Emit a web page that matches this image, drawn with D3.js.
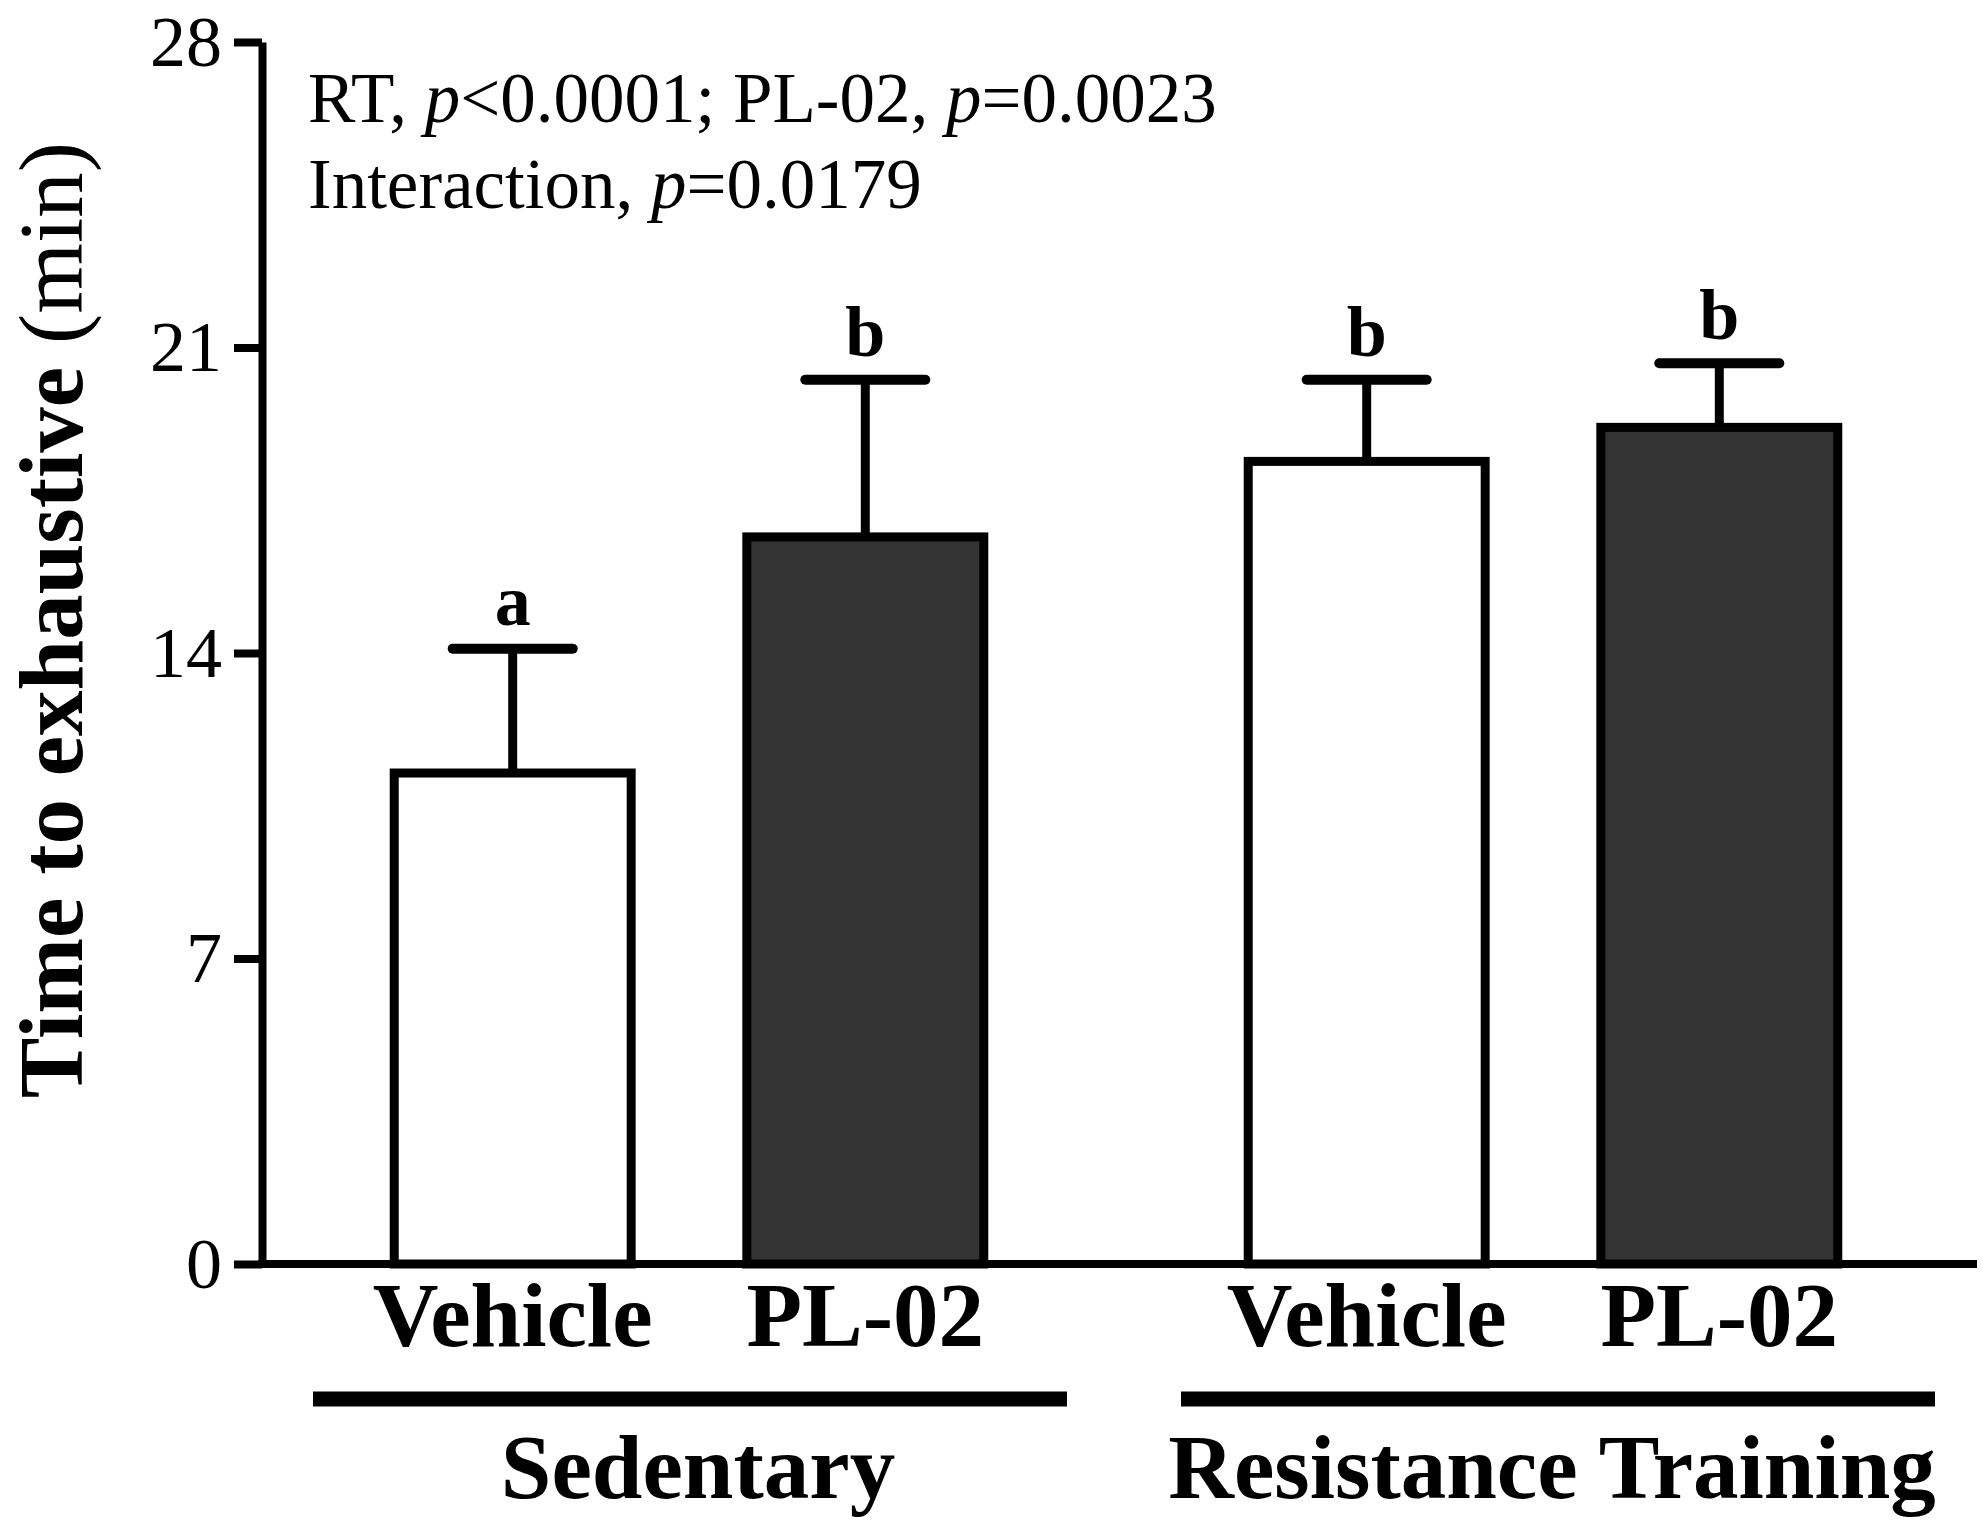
<!DOCTYPE html>
<html>
<head>
<meta charset="utf-8">
<script src="https://cdn.jsdelivr.net/npm/d3@7"></script>
<style>
  html, body { margin: 0; padding: 0; background: #fff; }
  svg { display: block; }
  text { font-family: "Liberation Serif", "Times New Roman", serif; fill: #000; }
</style>
</head>
<body>
<div class="chart"></div>
<script>
// data
const groups = ["Sedentary", "Resistance Training"]
const treatments = ["Vehicle", "PL-02"]
const means = [11.25, 16.66, 18.39, 19.17]   // Sed-Vehicle, Sed-PL-02, RT-Vehicle, RT-PL-02
const errors = [2.85, 3.6, 1.87, 1.47]
const letters = ["a", "b", "b", "b"]
const yTicks = [0, 7, 14, 21, 28]
const statLines = [
    [["RT, ", false], ["p", true], ["<0.0001; PL-02, ", false], ["p", true], ["=0.0023", false]],
    [["Interaction, ", false], ["p", true], ["=0.0179", false]]
]

const width = 1983
const height = 1526
const margin = { top: 42, left: 262, right: 13, bottom: 262 }
const fills = { "Vehicle": "#ffffff", "PL-02": "#333333" }
const groupLineShift = { "Sedentary": 1, "Resistance Training": 15 }  // group underline sits a bit right of the bars
const groupLineHalf = 377

const rows = []
groups.forEach((g, i) => treatments.forEach((t, j) => {
    const k = i * treatments.length + j
    rows.push({ group: g, treatment: t, mean: means[k], err: errors[k], letter: letters[k] })
}))

let svg = d3.select(".chart")
    .append("svg")
    .attr("width", width)
    .attr("height", height)

// scales
const y = d3.scaleLinear()
    .domain([0, 28])
    .range([height - margin.bottom, margin.top])

const xGroup = d3.scaleBand()
    .domain(groups)
    .range([margin.left, width - margin.right])

const xTreat = d3.scaleBand()
    .domain(treatments)
    .range([0, xGroup.bandwidth()])
    .paddingInner(0.328)
    .paddingOuter(0.375)

const cx = d => xGroup(d.group) + xTreat(d.treatment) + xTreat.bandwidth() / 2
const gx = g => xGroup(g) + xGroup.bandwidth() / 2

// bars
svg.selectAll("rect.bar")
    .data(rows)
    .enter()
    .append("rect")
    .attr("class", "bar")
    .attr("x", d => xGroup(d.group) + xTreat(d.treatment))
    .attr("y", d => y(d.mean))
    .attr("width", xTreat.bandwidth())
    .attr("height", d => y(0) - y(d.mean))
    .attr("fill", d => fills[d.treatment])
    .attr("stroke", "#000")
    .attr("stroke-width", 9)

// error bars
const capHalf = 60
svg.selectAll("line.err")
    .data(rows)
    .enter()
    .append("line")
    .attr("x1", cx).attr("x2", cx)
    .attr("y1", d => y(d.mean))
    .attr("y2", d => y(d.mean + d.err))
    .attr("stroke", "#000")
    .attr("stroke-width", 9)

svg.selectAll("line.cap")
    .data(rows)
    .enter()
    .append("line")
    .attr("x1", d => cx(d) - capHalf)
    .attr("x2", d => cx(d) + capHalf)
    .attr("y1", d => y(d.mean + d.err))
    .attr("y2", d => y(d.mean + d.err))
    .attr("stroke", "#000")
    .attr("stroke-width", 10)
    .attr("stroke-linecap", "round")

// significance letters
svg.selectAll("text.letter")
    .data(rows)
    .enter()
    .append("text")
    .attr("x", cx)
    .attr("y", d => y(d.mean + d.err) - 24)
    .attr("text-anchor", "middle")
    .attr("font-size", 72)
    .attr("font-weight", "bold")
    .text(d => d.letter)

// y axis
const yAxis = svg.append("g")
    .attr("transform", `translate(${margin.left},0)`)
    .call(d3.axisLeft(y).tickValues(yTicks).tickSize(28).tickSizeOuter(0).tickPadding(12))

yAxis.select(".domain").attr("stroke", "#000").attr("stroke-width", 8)
yAxis.selectAll(".tick line").attr("stroke", "#000").attr("stroke-width", 8)
yAxis.selectAll(".tick text")
    .attr("font-family", "'Liberation Serif', 'Times New Roman', serif")
    .attr("font-size", 72)
    .attr("fill", "#000")

// x axis line
svg.append("line")
    .attr("x1", margin.left - 4)
    .attr("x2", width - 6)
    .attr("y1", y(0))
    .attr("y2", y(0))
    .attr("stroke", "#000")
    .attr("stroke-width", 8)

// treatment labels
svg.selectAll("text.cat")
    .data(rows)
    .enter()
    .append("text")
    .attr("x", cx)
    .attr("y", 1346)
    .attr("text-anchor", "middle")
    .attr("font-size", 91)
    .attr("font-weight", "bold")
    .text(d => d.treatment)

// group bars and labels
svg.selectAll("line.grp")
    .data(groups)
    .enter()
    .append("line")
    .attr("x1", g => gx(g) + groupLineShift[g] - groupLineHalf)
    .attr("x2", g => gx(g) + groupLineShift[g] + groupLineHalf)
    .attr("y1", 1399)
    .attr("y2", 1399)
    .attr("stroke", "#000")
    .attr("stroke-width", 15)

svg.selectAll("text.grp")
    .data(groups)
    .enter()
    .append("text")
    .attr("x", g => gx(g) + 9)
    .attr("y", 1498)
    .attr("text-anchor", "middle")
    .attr("font-size", 91)
    .attr("font-weight", "bold")
    .text(g => g)

// y axis title
const yTitle = svg.append("text")
    .attr("transform", `translate(82,620) rotate(-90)`)
    .attr("text-anchor", "middle")
    .attr("font-size", 91)
yTitle.append("tspan").attr("font-weight", "bold").text("Time to exhaustive ")
yTitle.append("tspan").text("(min)")

// statistics annotation
statLines.forEach((parts, i) => {
    const t = svg.append("text")
        .attr("x", 308)
        .attr("y", 122 + i * 86)
        .attr("font-size", 71)
    parts.forEach(([s, it]) => {
        t.append("tspan")
            .attr("font-style", it ? "italic" : "normal")
            .text(s)
    })
})
</script>
</body>
</html>
